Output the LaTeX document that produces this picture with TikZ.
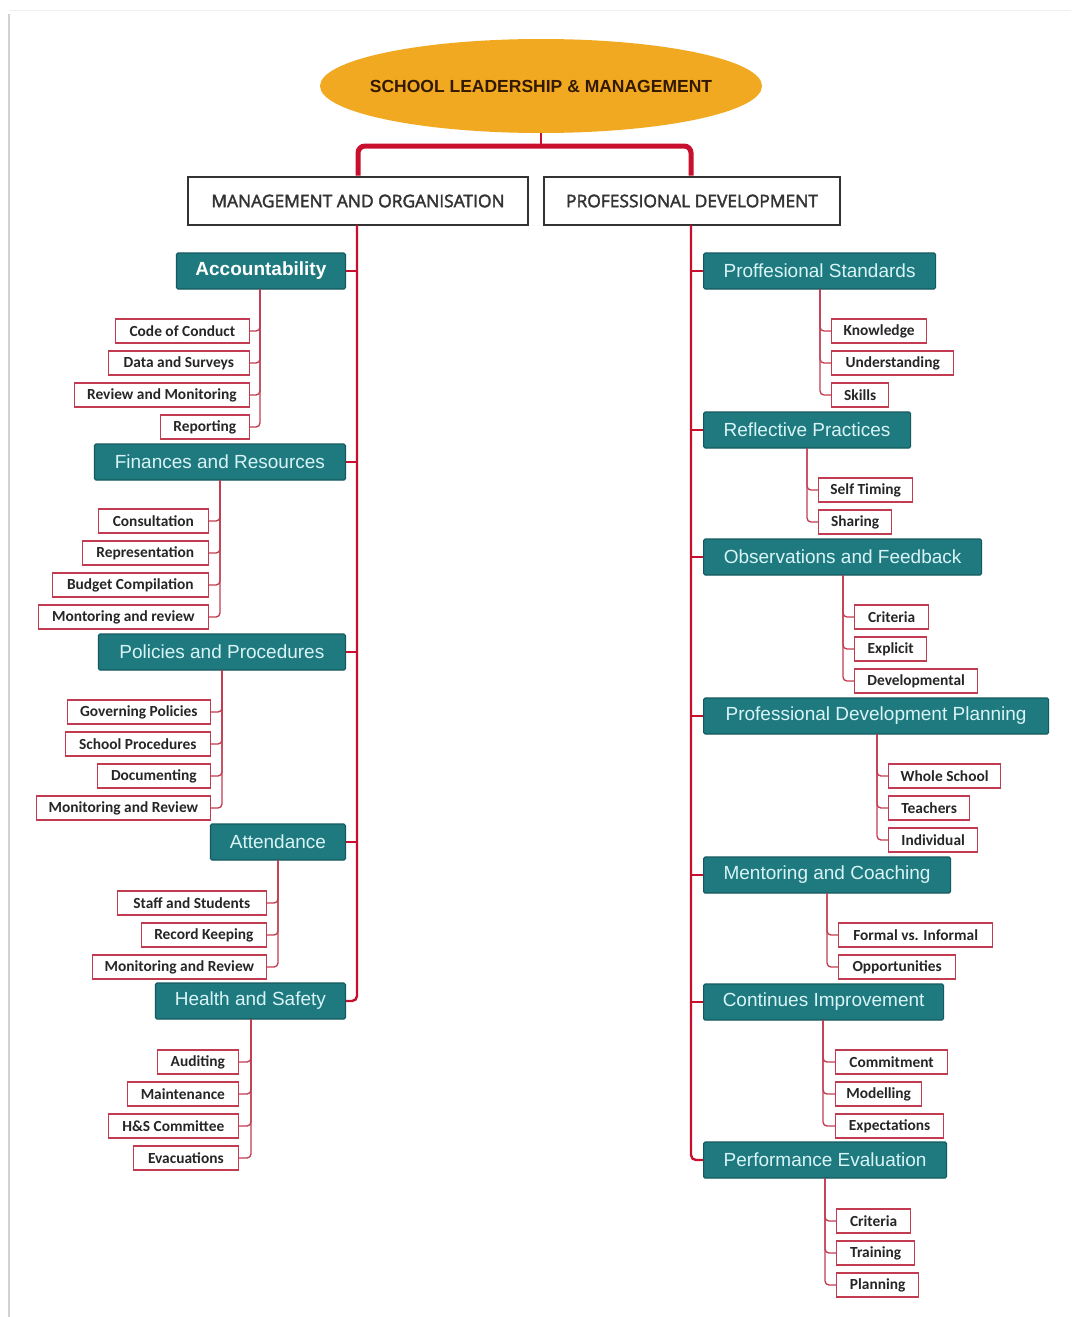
\documentclass[tikz,border=0pt]{standalone}
\usepackage{fontspec}
\setmainfont{Liberation Sans}
\newfontfamily\calfont{Carlito}
\newfontfamily\osfont[FakeBold=2.2]{Open Sans}
\usetikzlibrary{shapes.geometric}
\definecolor{orangeE}{HTML}{F2A922}
\definecolor{redM}{HTML}{C8102E}
\definecolor{redS}{HTML}{C23B50}
\definecolor{tealB}{HTML}{1F7A80}
\definecolor{tealD}{HTML}{14595E}
\definecolor{cyanT}{HTML}{D9F4F6}
\tikzset{
  tealbox/.style={draw=tealD, line width=1.2pt, fill=tealB, text=cyanT, minimum height=36pt, inner sep=0pt, font=\fontsize{19}{22}\selectfont, rounded corners=1.5pt},
  subbox/.style={draw=redS, line width=1.3pt, fill=white, text=black!85, minimum height=24pt, inner sep=0pt, font=\calfont\bfseries\fontsize{15.4}{17}\selectfont},
  headbox/.style={draw=black!80, line width=2.6pt, fill=white, text=black!80, minimum height=48pt, inner sep=0pt, font=\osfont\fontsize{17.4}{20}\selectfont},
  mainline/.style={draw=redM, line width=2.4pt, rounded corners=5pt},
  subline/.style={draw=redS, line width=1.3pt, rounded corners=4pt},
}
\begin{document}
\begin{tikzpicture}[x=1pt,y=-1pt]
\path[use as bounding box, fill=white] (0,0) rectangle (1071,1317);
% page shadow
\draw[gray!35, line width=2pt] (9,14) -- (9,1317);
\draw[gray!12, line width=1pt] (9,10) -- (1071,10);

% top ellipse
\node[ellipse, fill=orangeE, minimum width=442pt, minimum height=94pt, inner sep=0pt] (root) at (541,86) {};
\node[text=black!80!orange, font=\bfseries\fontsize{17.5}{20}\selectfont, inner sep=0pt] (roottext) at (root.center) {SCHOOL LEADERSHIP \& MANAGEMENT};

% headers
\node[headbox, minimum width=340pt] (mo) at (358,201) {MANAGEMENT AND ORGANISATION};
\node[headbox, minimum width=296pt] (pd) at (692,201) {PROFESSIONAL DEVELOPMENT};

% bracket
\coordinate (bar) at (541,146);
\draw[redM, line width=2pt] (root.south) -- (bar);
\draw[redM, line width=5pt, rounded corners=7pt] (mo.north -| 358,0) -- (358,146) -- (691,146) -- (pd.north -| 691,0);

% main lines
\coordinate (ml) at (357,225);
\coordinate (mr) at (691,225);

% ---------------- LEFT ----------------
\node[tealbox, minimum width=169pt, anchor=east, text=white, font=\bfseries\fontsize{19}{22}\selectfont] (acc) at (346,271) {Accountability};
\node[tealbox, minimum width=251pt, anchor=east] (fin) at (346,462) {Finances and Resources};
\node[tealbox, minimum width=247pt, anchor=east] (pol) at (346,652) {Policies and Procedures};
\node[tealbox, minimum width=135pt, anchor=east] (att) at (346,842) {Attendance};
\node[tealbox, minimum width=190pt, anchor=east] (hs) at (346,1001) {Health and Safety};

\draw[mainline] (ml) |- (hs.east);
\foreach \n in {acc,fin,pol,att} \draw[mainline] (\n.east) -- (\n.east -| ml);

% Accountability subs
\node[subbox, minimum width=134pt, anchor=east] (a1) at (250,331) {Code of Conduct};
\node[subbox, minimum width=141pt, anchor=east] (a2) at (250,363) {Data and Surveys};
\node[subbox, minimum width=175pt, anchor=east] (a3) at (250,395) {Review and Monitoring};
\node[subbox, minimum width=89pt, anchor=east] (a4) at (250,427) {Reporting};
\coordinate (av) at (260,289);
\foreach \n in {a1,a2,a3,a4} \draw[subline] (av) |- (\n.east);

% Finances subs
\node[subbox, minimum width=110pt, anchor=east] (f1) at (209,521) {Consultation};
\node[subbox, minimum width=126pt, anchor=east] (f2) at (209,553) {Representation};
\node[subbox, minimum width=156pt, anchor=east] (f3) at (209,585) {Budget Compilation};
\node[subbox, minimum width=170pt, anchor=east] (f4) at (209,617) {Montoring and review};
\coordinate (fv) at (220,480);
\foreach \n in {f1,f2,f3,f4} \draw[subline] (fv) |- (\n.east);

% Policies subs
\node[subbox, minimum width=143pt, anchor=east] (p1) at (211,712) {Governing Policies};
\node[subbox, minimum width=145pt, anchor=east] (p2) at (211,744) {School Procedures};
\node[subbox, minimum width=113pt, anchor=east] (p3) at (211,776) {Documenting};
\node[subbox, minimum width=174pt, anchor=east] (p4) at (211,808) {Monitoring and Review};
\coordinate (pv) at (222,670);
\foreach \n in {p1,p2,p3,p4} \draw[subline] (pv) |- (\n.east);

% Attendance subs
\node[subbox, minimum width=149pt, anchor=east] (t1) at (267,903) {Staff and Students};
\node[subbox, minimum width=125pt, anchor=east] (t2) at (267,935) {Record Keeping};
\node[subbox, minimum width=174pt, anchor=east] (t3) at (267,967) {Monitoring and Review};
\coordinate (tv) at (278,860);
\foreach \n in {t1,t2,t3} \draw[subline] (tv) |- (\n.east);

% Health and Safety subs
\node[subbox, minimum width=81pt, anchor=east] (h1) at (239,1062) {Auditing};
\node[subbox, minimum width=111pt, anchor=east] (h2) at (239,1094) {Maintenance};
\node[subbox, minimum width=130pt, anchor=east] (h3) at (239,1126) {H\&S Committee};
\node[subbox, minimum width=105pt, anchor=east] (h4) at (239,1158) {Evacuations};
\coordinate (hv) at (251,1019);
\foreach \n in {h1,h2,h3,h4} \draw[subline] (hv) |- (\n.east);

% ---------------- RIGHT ----------------
\node[tealbox, minimum width=232pt, anchor=west] (ps) at (703,271) {Proffesional Standards};
\node[tealbox, minimum width=207pt, anchor=west] (rp) at (703,430) {Reflective Practices};
\node[tealbox, minimum width=278pt, anchor=west] (of) at (703,557) {Observations and Feedback};
\node[tealbox, minimum width=345pt, anchor=west] (pdp) at (703,716) {Professional Development Planning};
\node[tealbox, minimum width=247pt, anchor=west] (mc) at (703,875) {Mentoring and Coaching};
\node[tealbox, minimum width=240pt, anchor=west] (ci) at (703,1002) {Continues Improvement};
\node[tealbox, minimum width=243pt, anchor=west] (pe) at (703,1160) {Performance Evaluation};

\draw[mainline] (mr) |- (pe.west);
\foreach \n in {ps,rp,of,pdp,mc,ci} \draw[mainline] (\n.west) -- (\n.west -| mr);

% Professional Standards subs
\node[subbox, minimum width=95pt, anchor=west] (s1) at (831,331) {Knowledge};
\node[subbox, minimum width=122pt, anchor=west] (s2) at (831,363) {Understanding};
\node[subbox, minimum width=57pt, anchor=west] (s3) at (831,395) {Skills};
\coordinate (sv) at (820,289);
\foreach \n in {s1,s2,s3} \draw[subline] (sv) |- (\n.west);

% Reflective subs
\node[subbox, minimum width=94pt, anchor=west] (r1) at (818,490) {Self Timing};
\node[subbox, minimum width=73pt, anchor=west] (r2) at (818,522) {Sharing};
\coordinate (rv) at (807,448);
\foreach \n in {r1,r2} \draw[subline] (rv) |- (\n.west);

% Observations subs
\node[subbox, minimum width=74pt, anchor=west] (o1) at (854,617) {Criteria};
\node[subbox, minimum width=72pt, anchor=west] (o2) at (854,649) {Explicit};
\node[subbox, minimum width=123pt, anchor=west] (o3) at (854,681) {Developmental};
\coordinate (ov) at (843,575);
\foreach \n in {o1,o2,o3} \draw[subline] (ov) |- (\n.west);

% PD Planning subs
\node[subbox, minimum width=112pt, anchor=west] (d1) at (888,776) {Whole School};
\node[subbox, minimum width=81pt, anchor=west] (d2) at (888,808) {Teachers};
\node[subbox, minimum width=89pt, anchor=west] (d3) at (888,840) {Individual};
\coordinate (dv) at (877,734);
\foreach \n in {d1,d2,d3} \draw[subline] (dv) |- (\n.west);

% Mentoring subs
\node[subbox, minimum width=154pt, anchor=west] (m1) at (838,935) {Formal vs. Informal};
\node[subbox, minimum width=117pt, anchor=west] (m2) at (838,967) {Opportunities};
\coordinate (mv) at (827,893);
\foreach \n in {m1,m2} \draw[subline] (mv) |- (\n.west);

% Continues Improvement subs
\node[subbox, minimum width=112pt, anchor=west] (c1) at (835,1062) {Commitment};
\node[subbox, minimum width=86pt, anchor=west] (c2) at (835,1094) {Modelling};
\node[subbox, minimum width=108pt, anchor=west] (c3) at (835,1126) {Expectations};
\coordinate (cv) at (823,1020);
\foreach \n in {c1,c2,c3} \draw[subline] (cv) |- (\n.west);

% Performance subs
\node[subbox, minimum width=74pt, anchor=west] (e1) at (836,1221) {Criteria};
\node[subbox, minimum width=78pt, anchor=west] (e2) at (836,1253) {Training};
\node[subbox, minimum width=82pt, anchor=west] (e3) at (836,1285) {Planning};
\coordinate (ev) at (825,1178);
\foreach \n in {e1,e2,e3} \draw[subline] (ev) |- (\n.west);
\end{tikzpicture}
\end{document}
